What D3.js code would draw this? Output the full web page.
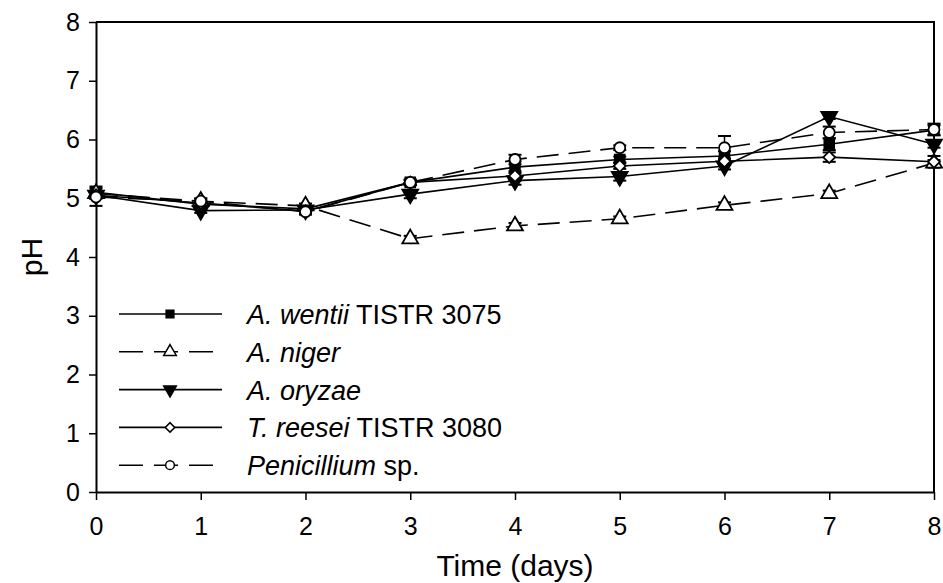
<!DOCTYPE html>
<html>
<head>
<meta charset="utf-8">
<script src="https://cdn.jsdelivr.net/npm/d3@7"></script>
<style>
  body { margin: 0; background: #fff; }
  text { font-family: "Liberation Sans", Arial, sans-serif; fill: #000; }
</style>
</head>
<body>
<div id="chart"></div>
<script>
// data
var days = [0, 1, 2, 3, 4, 5, 6, 7, 8];
var wentii = [5.10, 4.90, 4.82, 5.27, 5.53, 5.66, 5.72, 5.92, 6.16];
var niger = [5.08, 4.95, 4.87, 4.31, 4.53, 4.65, 4.88, 5.08, 5.60];
var oryzae = [5.05, 4.79, 4.80, 5.07, 5.30, 5.37, 5.55, 6.39, 5.92];
var reesei = [5.05, 4.92, 4.78, 5.27, 5.38, 5.55, 5.63, 5.70, 5.62];
var penicillium = [5.02, 4.95, 4.77, 5.27, 5.66, 5.86, 5.86, 6.12, 6.17];

var wentiiErr = [0.10, 0.05, 0.05, 0.04, 0.10, 0.05, 0.08, 0.10, 0.08];
var nigerErr = [0.05, 0.04, 0.04, 0.05, 0.05, 0.04, 0.05, 0.05, 0.05];
var oryzaeErr = [0.05, 0.04, 0.05, 0.07, 0.07, 0.07, 0.06, 0.04, 0.06];
var reeseiErr = [0.05, 0.04, 0.04, 0.04, 0.08, 0.05, 0.05, 0.08, 0.10];
var penErr = [0.15, 0.05, 0.05, 0.05, 0.08, 0.04, 0.20, 0.10, 0.10];

var xTicks = [0, 1, 2, 3, 4, 5, 6, 7, 8];
var yTicks = [0, 1, 2, 3, 4, 5, 6, 7, 8];

var series = [
    { italic: "A. wentii", rest: " TISTR 3075", values: wentii, err: wentiiErr, dash: null, symbol: d3.symbolSquare, fill: "#000", rot: 0 },
    { italic: "A. niger", rest: "", values: niger, err: nigerErr, dash: "22,10", symbol: d3.symbolTriangle, fill: "#fff", rot: 0 },
    { italic: "A. oryzae", rest: "", values: oryzae, err: oryzaeErr, dash: null, symbol: d3.symbolTriangle, fill: "#000", rot: 180 },
    { italic: "T. reesei", rest: " TISTR 3080", values: reesei, err: reeseiErr, dash: null, symbol: d3.symbolSquare, fill: "#fff", rot: 45 },
    { italic: "Penicillium", rest: " sp.", values: penicillium, err: penErr, dash: "22,10", symbol: d3.symbolCircle, fill: "#fff", rot: 0 }
];

var margin = { top: 22, right: 9, bottom: 91, left: 96 },
    width = 943 - margin.left - margin.right,
    height = 583 - margin.top - margin.bottom;

var svg = d3.select("#chart")
    .append("svg")
    .attr("width", 943)
    .attr("height", 583)
    .append("g")
    .attr("transform", "translate(" + margin.left + "," + margin.top + ")");

var x = d3.scaleLinear().domain([0, 8]).range([0, width]);
var y = d3.scaleLinear().domain([0, 8]).range([height, 0]);

// frame (top and right)
svg.append("path")
    .attr("d", "M0,0H" + width + "V" + height)
    .attr("fill", "none")
    .attr("stroke", "#000")
    .attr("stroke-width", 2);

// axes
var xAxis = svg.append("g")
    .attr("transform", "translate(0," + height + ")")
    .call(d3.axisBottom(x).tickValues(xTicks).tickSize(8).tickPadding(17).tickSizeOuter(0));
var yAxis = svg.append("g")
    .call(d3.axisLeft(y).tickValues(yTicks).tickSize(7).tickPadding(9).tickSizeOuter(0));

[xAxis, yAxis].forEach(function (a) {
    a.select(".domain").attr("stroke-width", 2);
    a.selectAll(".tick line").attr("stroke-width", 1.5);
    a.selectAll("text").style("font-size", "25px").attr("font-family", "Liberation Sans, Arial, sans-serif");
});

svg.append("text")
    .attr("x", width / 2)
    .attr("y", height + 84)
    .attr("text-anchor", "middle")
    .style("font-size", "30px")
    .text("Time (days)");

svg.append("text")
    .attr("transform", "translate(" + (-54) + "," + (height / 2) + ") rotate(-90)")
    .attr("text-anchor", "middle")
    .style("font-size", "30px")
    .text("pH");

var line = d3.line()
    .x(function (d, i) { return x(days[i]); })
    .y(function (d) { return y(d); });

// lines first
series.forEach(function (s) {
    svg.append("path")
        .datum(s.values)
        .attr("d", line)
        .attr("fill", "none")
        .attr("stroke", "#000")
        .attr("stroke-width", 1.6)
        .attr("stroke-dasharray", s.dash);
});

// error bars
series.forEach(function (s) {
    var g = svg.append("g");
    s.values.forEach(function (v, i) {
        var cx = x(days[i]);
        var y0 = y(v - s.err[i]), y1 = y(v + s.err[i]);
        g.append("line").attr("x1", cx).attr("x2", cx).attr("y1", y0).attr("y2", y1)
            .attr("stroke", "#000").attr("stroke-width", 1.5);
        [y0, y1].forEach(function (yy) {
            g.append("line").attr("x1", cx - 6.5).attr("x2", cx + 6.5).attr("y1", yy).attr("y2", yy)
                .attr("stroke", "#000").attr("stroke-width", 2);
        });
    });
});

function marker(s, size) {
    var k = s.rot === 45 ? 0.75 : (s.symbol === d3.symbolTriangle ? 1.15 : 1);
    return d3.symbol().type(s.symbol).size(size * k)();
}

// markers
series.forEach(function (s) {
    svg.selectAll(null)
        .data(s.values)
        .enter()
        .append("path")
        .attr("d", marker(s, 95))
        .attr("transform", function (d, i) {
            return "translate(" + x(days[i]) + "," + y(d) + ") rotate(" + s.rot + ")";
        })
        .attr("fill", s.fill)
        .attr("stroke", "#000")
        .attr("stroke-width", 1.8);
});

// legend
var legend = svg.append("g").attr("transform", "translate(23,292)");
series.forEach(function (s, i) {
    var row = legend.append("g").attr("transform", "translate(0," + (i * 37.8) + ")");
    row.append("line")
        .attr("x1", 0).attr("x2", 103).attr("y1", 0).attr("y2", 0)
        .attr("stroke", "#000").attr("stroke-width", 1.6)
        .attr("stroke-dasharray", s.dash ? "24,11" : null);
    row.append("path")
        .attr("d", marker(s, 60))
        .attr("transform", "translate(51,0) rotate(" + s.rot + ")")
        .attr("fill", s.fill)
        .attr("stroke", "#000")
        .attr("stroke-width", 1.5);
    var t = row.append("text")
        .attr("x", 128)
        .attr("y", 10)
        .style("font-size", "27px");
    t.append("tspan").style("font-style", "italic").text(s.italic);
    t.append("tspan").text(s.rest);
});
</script>
</body>
</html>
